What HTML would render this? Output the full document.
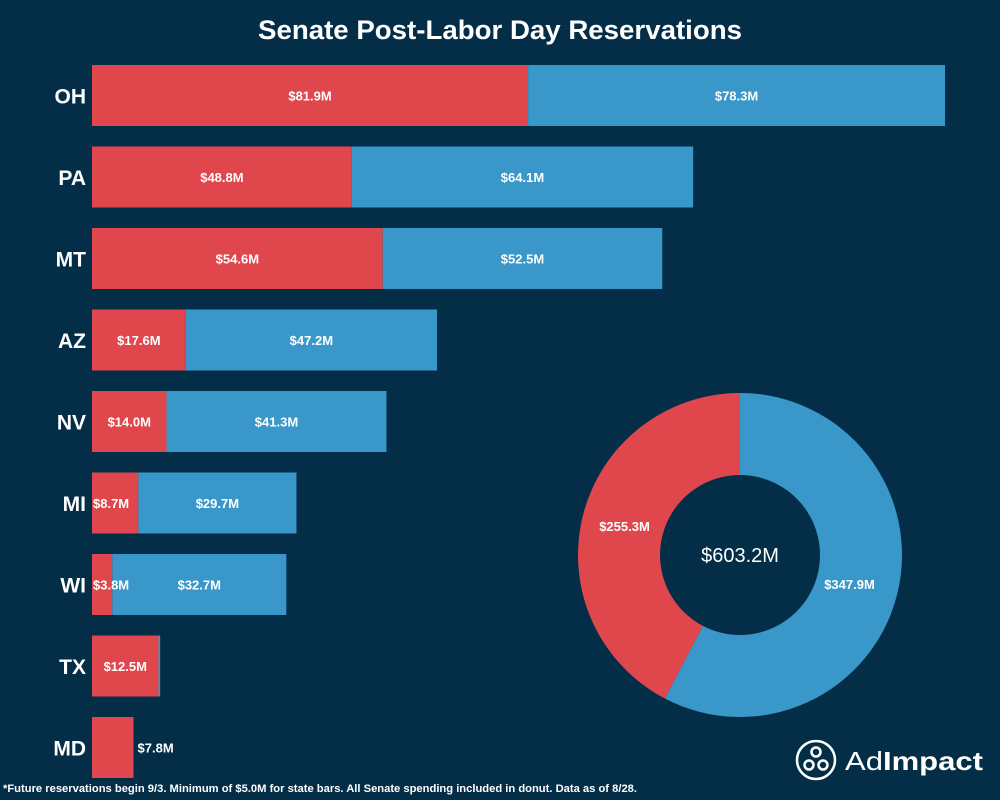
<!DOCTYPE html>
<html><head><meta charset="utf-8"><style>
html,body{margin:0;padding:0;background:#042e47;}
svg{display:block}
text{font-family:"Liberation Sans","DejaVu Sans",sans-serif;}
</style></head><body>
<svg id="chart" width="1000" height="800" viewBox="0 0 1000 800">
<rect width="1000" height="800" fill="#042e47"/>
<text x="500" y="39" text-anchor="middle" fill="#fff" font-size="27" font-weight="bold" textLength="484" lengthAdjust="spacingAndGlyphs">Senate Post-Labor Day Reservations</text>
<g id="bars"></g>
<g id="donut"></g>
<text x="3" y="792" fill="#fff" font-size="11" font-weight="bold" textLength="634" lengthAdjust="spacingAndGlyphs">*Future reservations begin 9/3. Minimum of $5.0M for state bars. All Senate spending included in donut. Data as of 8/28.</text>
<g>
<circle cx="816" cy="760" r="19" fill="none" stroke="#fff" stroke-width="2.5"/>
<circle cx="816" cy="752" r="4.5" fill="none" stroke="#fff" stroke-width="2.5"/>
<circle cx="809" cy="765" r="4.5" fill="none" stroke="#fff" stroke-width="2.5"/>
<circle cx="823" cy="765" r="4.5" fill="none" stroke="#fff" stroke-width="2.5"/>
<text x="845" y="770" fill="#fff" font-size="26" textLength="138" lengthAdjust="spacingAndGlyphs"><tspan font-weight="normal">Ad</tspan><tspan font-weight="bold">Impact</tspan></text>
</g>
</svg>
<script>
const states=["OH","PA","MT","AZ","NV","MI","WI","TX","MD"];
const repValues=[81.9,48.8,54.6,17.6,14.0,8.7,3.8,12.5,7.8];
const demValues=[78.3,64.1,52.5,47.2,41.3,29.7,32.7,0.3,0];
const donutRep=255.3;
const donutDem=347.9;
const donutTotal="$603.2M";
const RED="#e0474c",BLUE="#3a97c9",NS="http://www.w3.org/2000/svg";
const x0=92,scale=853/160.2,y0=65,step=81.5,bh=61;
const xs=v=>v*scale;
const ys=i=>y0+i*step;
const bars=document.getElementById('bars');
function mk(tag,attrs,parent){const e=document.createElementNS(NS,tag);for(const k in attrs)e.setAttribute(k,attrs[k]);parent.appendChild(e);return e;}
const fmt=v=>"$"+v.toFixed(1)+"M";
states.forEach((s,i)=>{
 const y=ys(i);
 const lab=mk('text',{x:86,y:y+bh/2+8,'text-anchor':'end',fill:'#fff','font-size':21,'font-weight':'bold'},bars);
 lab.textContent=s;
 
 
 const rw=xs(repValues[i]);
 const r=mk('rect',{x:x0,y:y,width:rw,height:bh,fill:RED},bars);
 
 
 const bw=xs(demValues[i]);
 if(demValues[i]>0){
  const b=mk('rect',{x:x0+rw,y:y,width:bw,height:bh,fill:BLUE},bars);
  
  
 }
 let tx,anchor;
 if(rw>55){tx=x0+rw/2;anchor='middle';}
 else if(demValues[i]>1){tx=x0+1;anchor='start';}
 else{tx=x0+rw+4;anchor='start';}
 const t=mk('text',{x:tx,y:y+bh/2+5,'text-anchor':anchor,fill:'#fff','font-size':13,'font-weight':'bold'},bars);
 t.textContent=fmt(repValues[i]);
 
 
 if(demValues[i]>1){
  const t2=mk('text',{x:x0+rw+bw/2,y:y+bh/2+5,'text-anchor':'middle',fill:'#fff','font-size':13,'font-weight':'bold'},bars);
  t2.textContent=fmt(demValues[i]);
  
  
 }
});
const dg=document.getElementById('donut');
const cx=740,cy=555,R=162,r0=80;
const tot=donutRep+donutDem;
function arc(a0,a1){
 const p=(a,rr)=>[cx+rr*Math.sin(a),cy-rr*Math.cos(a)];
 const L=(a1-a0)>Math.PI?1:0;
 const [x1,y1]=p(a0,R),[x2,y2]=p(a1,R),[x3,y3]=p(a1,r0),[x4,y4]=p(a0,r0);
 return `M${x1},${y1}A${R},${R} 0 ${L} 1 ${x2},${y2}L${x3},${y3}A${r0},${r0} 0 ${L} 0 ${x4},${y4}Z`;
}
const aD=donutDem/tot*2*Math.PI;
const sd=mk('path',{d:arc(0,aD),fill:BLUE},dg);


const sr=mk('path',{d:arc(aD,2*Math.PI),fill:RED},dg);


const lm=(R+r0)/2;
const ld=mk('text',{x:cx+lm*Math.sin(aD/2)-8,y:cy-lm*Math.cos(aD/2)+5,'text-anchor':'middle',fill:'#fff','font-size':13,'font-weight':'bold'},dg);
ld.textContent=fmt(donutDem);


const am=(aD+2*Math.PI)/2;
const lr=mk('text',{x:cx+lm*Math.sin(am)+2,y:cy-lm*Math.cos(am)+5,'text-anchor':'middle',fill:'#fff','font-size':13,'font-weight':'bold'},dg);
lr.textContent=fmt(donutRep);


const ct=mk('text',{x:cx,y:cy+7,'text-anchor':'middle',fill:'#fff','font-size':20},dg);
ct.textContent=donutTotal;


</script>
</body></html>
